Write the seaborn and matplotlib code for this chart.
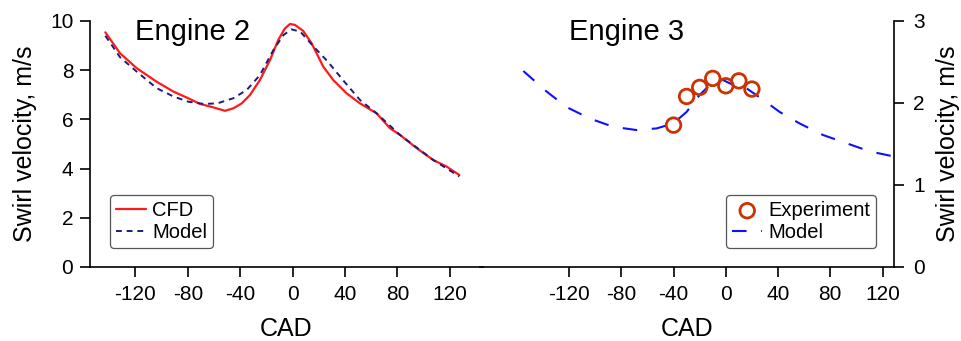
import numpy as np
import pandas as pd
import matplotlib
matplotlib.use('Agg')
import matplotlib.pyplot as plt
import seaborn as sns

sns.set_style('ticks')
plt.rcParams['font.family'] = ['Liberation Sans', 'DejaVu Sans']
plt.rcParams.update({'text.color': 'black', 'axes.labelcolor': 'black',
                     'xtick.color': 'black', 'ytick.color': 'black'})

# Engine 2 - CFD (red)
cfd_cad = [-143, -131.8, -119, -103.8, -91, -79.7, -70.8, -60.6, -51.7, -45.3, -38.9,
           -32.6, -25, -17.3, -11, -5.9, -2, 1.8, 8, 14.5, 23.4, 31, 41.2, 51.4, 64,
           74.3, 81.9, 94.7, 107.3, 117.6, 127.2]
cfd_vel = [9.54, 8.69, 8.08, 7.53, 7.13, 6.86, 6.63, 6.49, 6.35, 6.45, 6.65,
           6.99, 7.6, 8.41, 9.23, 9.7, 9.88, 9.84, 9.6, 9.09, 8.14, 7.6, 7.06, 6.65, 6.25,
           5.64, 5.37, 4.83, 4.35, 4.08, 3.74]

# Engine 2 - Model
m2_cad = [-143, -131.8, -119, -103.8, -91, -79.7, -68, -57.6, -45.3, -35, -25, -14.7,
          -7, -1, 5.8, 16, 26.8, 39.5, 51.4, 64, 81.9, 107.3, 127.2]
m2_vel = [9.4, 8.53, 7.94, 7.27, 6.93, 6.72, 6.63, 6.65, 6.86, 7.2, 7.8, 8.82,
          9.43, 9.66, 9.57, 8.96, 8.35, 7.53, 6.79, 6.25, 5.37, 4.35, 3.68]

# Engine 3 - Model
m3_cad = [-155, -137.2, -121.9, -104, -86.2, -68.3, -53, -40.3, -30.1, -19.9, -9.7,
          -4.6, 5.6, 15.8, 28.5, 41.3, 56.6, 74.4, 92.3, 110.2, 128]
m3_vel = [2.39, 2.14, 1.95, 1.81, 1.71, 1.67, 1.69, 1.75, 1.89, 2.10, 2.26,
          2.30, 2.22, 2.18, 2.04, 1.89, 1.75, 1.61, 1.51, 1.41, 1.35]

# Engine 3 - Experiment
exp_cad = [-40, -30, -20, -10, 0, 10, 20]
exp_vel = [1.73, 2.08, 2.19, 2.30, 2.21, 2.27, 2.17]

xticks = [-120, -80, -40, 0, 40, 80, 120]

fig = plt.figure(figsize=(9.62, 3.41), dpi=100)
ax1 = fig.add_axes([90/962, 74/341, 393/962, 246/341])
ax2 = fig.add_axes([480/962, 74/341, 414/962, 246/341])

df_cfd = pd.DataFrame({'CAD': cfd_cad, 'v': cfd_vel})
df_m2 = pd.DataFrame({'CAD': m2_cad, 'v': m2_vel})
df_m3 = pd.DataFrame({'CAD': m3_cad, 'v': m3_vel})
df_exp = pd.DataFrame({'CAD': exp_cad, 'v': exp_vel})

sns.lineplot(data=df_cfd, x='CAD', y='v', ax=ax1, color='#ff1a1a', lw=1.6,
             estimator=None, label='CFD')
sns.lineplot(data=df_m2, x='CAD', y='v', ax=ax1, color='#1c1c7a', lw=1.4,
             estimator=None, label='Model')
ax1.lines[1].set_dashes([3, 2.5])

sns.scatterplot(data=df_exp, x='CAD', y='v', ax=ax2, marker='o', s=110,
                facecolor='none', edgecolor='#cc3300', linewidth=2, label='Experiment', zorder=3)
sns.lineplot(data=df_m3, x='CAD', y='v', ax=ax2, color='#1010ff', lw=1.5,
             estimator=None, label='Model')
ax2.lines[0].set_dashes([7, 7])

for ax in (ax1, ax2):
    ax.set_xticks(xticks)
    ax.set_xticklabels([str(t) for t in xticks])
    ax.set_xlabel('CAD', fontsize=18, labelpad=9)
    ax.tick_params(axis='both', labelsize=15, length=7, width=1.2, direction='out')
    ax.tick_params(axis='x', pad=6)
    for s in ax.spines.values():
        s.set_linewidth(1.2)
        s.set_color('black')
    ax.set_facecolor('none')

# left axis runs a little past 480 px so the two bottom lines join
ax1.set_xlim(-154.7, 145.3)
ax1.set_ylim(0, 10)
ax1.set_yticks([0, 2, 4, 6, 8, 10])
ax1.spines['top'].set_visible(False)
ax1.spines['right'].set_visible(False)
ax1.tick_params(axis='y', pad=5)
ax1.set_ylabel('Swirl velocity, m/s', fontsize=18, labelpad=9)

ax2.set_xlim(-188.2, 128.8)
ax2.set_ylim(0, 3)
ax2.set_yticks([0, 1, 2, 3])
ax2.spines['top'].set_visible(False)
ax2.spines['left'].set_visible(False)
ax2.yaxis.tick_right()
ax2.yaxis.set_label_position('right')
ax2.tick_params(axis='y', pad=7)
ax2.set_ylabel('Swirl velocity, m/s', fontsize=18, labelpad=8)

ax1.text(0.115, 0.955, 'Engine 2', transform=ax1.transAxes, fontsize=21, va='center', ha='left')
ax2.text(0.353, 0.955, 'Engine 3', transform=ax2.transAxes, fontsize=21, va='center', ha='center')

leg_kw = dict(borderaxespad=0, fontsize=14.5, handlelength=1.5, handletextpad=0.3,
              borderpad=0.3, labelspacing=0.15, fancybox=True, framealpha=1)
leg1 = ax1.legend(loc='lower left', bbox_to_anchor=(0.051, 0.077), **leg_kw)
leg2 = ax2.legend(loc='lower right', bbox_to_anchor=(0.9575, 0.077), **leg_kw)
for leg in (leg1, leg2):
    leg.get_frame().set_edgecolor('#555555')
    leg.get_frame().set_linewidth(0.9)

fig.savefig('out.png', dpi=100)
